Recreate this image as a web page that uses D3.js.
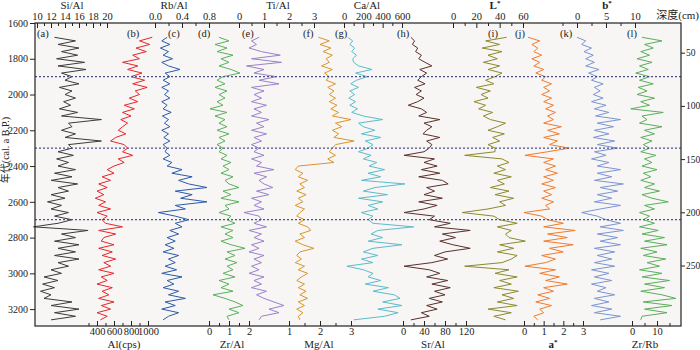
<!DOCTYPE html>
<html>
<head>
    <meta charset="utf-8">
    <title>geochem profiles</title>
    <script src="https://d3js.org/d3.v7.min.js"></script>
    <style>
        body { margin: 0; background: #fff; }
        svg text { font-family: "Liberation Serif", "Noto Sans CJK SC", serif; fill: #222; }
    </style>
</head>
<body>
    <svg id="chart" width="700" height="350"></svg>

    <script>
    // age of each sample (cal. a B.P.)
    var ages = [1680,1700,1720,1740,1760,1780,1800,1820,1840,1860,1880,1900,1920,1940,1960,1980,
        2000,2020,2040,2060,2080,2100,2120,2140,2160,2180,2200,2220,2240,2260,2280,2300,
        2320,2340,2360,2380,2400,2420,2440,2460,2480,2500,2520,2540,2560,2580,2600,2620,
        2640,2660,2680,2700,2720,2740,2760,2780,2800,2820,2840,2860,2880,2900,2920,2940,
        2960,2980,3000,3020,3040,3060,3080,3100,3120,3140,3160,3180,3200,3220,3240,3260];

    var siAl = [12.5,15.5,13.0,16.0,13.5,15.8,12.8, 16.8,13.0,17.0,13.5,15.0, 14.0,16.0,13.2,15.0,14.0,
        15.5,13.8,14.8,13.2,15.8,13.5,19.2,14.5, 15.0,13.5,15.5,14.0,19.2,14.5,15.0, 13.0,15.2,12.8,14.5,13.0,
        15.5,12.5,15.0,12.0,15.8,13.0,14.5,12.0, 14.0,11.5,13.5,12.0,14.5,12.5,15.0, 13.0,9.5,17.3,13.5,15.5,
        12.5,16.0,13.0,15.5,12.5,16.0,13.0, 14.5,12.0,13.5,11.0,13.0,10.8,12.5,10.5,12.0, 11.0,15.0,12.0,16.0,12.5,15.5,12.0];
    var alCps = [1050,900,1020,860,980,820,900, 700,880,760,930,800, 960,820,990,850,900,
        780,880,720,840,700,800,680,760,700,650,740,620,560,720,760, 700,820,650,720,600,
        520,600,460,560,420,520,400,480, 380,500,420,560,400,520,460, 500,700,420,620,480,
        450,600,420,580,460,620,480, 560,420,600,450,520,400,580,460,540, 420,600,450,560,400,520,440];
    var rbAl = [0.18,0.10,0.22,0.08,0.20,0.12,0.26,0.10,0.20,0.37,0.15,0.22, 0.12,0.22,0.10,0.20,0.14,
        0.22,0.10,0.18,0.12,0.24,0.11,0.20,0.14, 0.22,0.10,0.20,0.13,0.22,0.12,0.18, 0.15,0.22,0.12,0.25,0.18,
        0.40,0.25,0.55,0.35,0.50,0.77,0.30,0.55,0.38,0.77,0.30,0.45,0.05,0.30,0.50, 0.30,0.40,0.22,0.35,0.18,
        0.30,0.15,0.28,0.12,0.35,0.20,0.30, 0.15,0.32,0.10,0.40,0.18,0.28,0.12,0.35,0.20, 0.45,0.15,0.30,0.10,0.35,0.20,0.12];
    var zrAl = [0.5,1.0,0.3,0.9,0.4,1.2,0.6, 1.0,0.5,1.1,1.55,0.7, 0.4,0.8,0.3,0.9,0.5,
        0.8,0.4,0.7,0.05,0.9,0.3,0.8,0.5, 0.9,0.4,1.0,0.5,0.8,0.4,0.7, 0.5,0.9,0.6,1.1,0.7,
        1.0,0.6,1.2,0.8,1.0,1.5,0.7,1.1, 0.6,1.5,0.8,1.0,0.5,1.1,0.9, 1.3,0.6,1.2,0.8,1.2,
        0.6,1.1,1.8,0.9,1.3,0.8,1.4, 0.9,1.2,0.7,1.3,0.5,1.0,0.6,1.2,0.2, 0.8,1.3,1.7,1.0,1.5,0.9,1.0];
    var tiAl = [0.8,0.5,0.7,0.4,0.9,1.65,0.5,1.7,0.3,1.0,0.6,1.5,0.8,1.6,
        0.5,1.0,0.6,0.9,0.5,1.1,0.6,0.9,0.5,1.2,0.7,1.0,0.5,1.1,0.6,0.9,0.5,0.8,0.6,1.0,0.5,0.9,0.7,
        1.4,0.6,1.1,0.8,1.0,1.35,0.7,1.2,0.5,0.9,0.6,1.0,0.2,0.8,0.9,
        0.6,1.1,0.4,0.9,0.6,1.0,0.5,0.8,0.4,1.0,0.6,0.9,0.5,0.8,0.4,1.0,0.6,0.9,0.5,1.1,0.7,
        1.0,1.4,1.8,1.2,1.6,0.9,0.8];
    var mgAl = [1.95,2.3,2.0,2.35,2.1,2.4,2.2, 2.3,2.05,2.4,2.15,2.3, 2.2,2.5,2.25,2.45,2.3,
        2.5,2.3,2.55,2.35,2.6,2.4,3.0,2.5, 2.7,2.4,2.6,2.45,3.1,2.5,2.4, 2.3,2.5,2.25,2.45,1.3,
        1.2,1.45,1.3,1.6,1.35,1.5,1.25,1.55, 1.3,1.45,1.2,1.5,1.35,1.25,1.5, 1.3,1.6,1.7,1.35,1.5,
        1.2,1.45,1.8,1.35,1.25,1.4,1.2, 1.5,1.3,1.6,1.4,1.25,1.5,1.3,1.55,1.35, 1.6,1.3,1.5,1.25,1.45,1.3,1.35];
    var caAl = [40,90,60,110,80,130,90, 100,150,290,120,240, 130,70,150,60,110,
        50,120,60,140,80,200,400,150, 200,320,180,380,220,300,250, 150,280,200,340,260,
        420,250,380,180,630,320,200,450,150,400,250,350,180,300,250,
        300,720,350,280,400,250,600,300,200,350,180,300, 30,
        200,300,250,380,220,460,300,520, 580,400,600,350,560,420,100];
    var srAl = [15,22,18,28,24,35,30, 42,55,32,45,35, 28,42,22,35,25,
        40,28,10,35,45,30,70,40, 55,45,38,70,45,55,50, 40,2,60,40,65,
        35,70,30,75,86,45,60,40, 75,30,65,40,2,60,50, 90,60,128,75,100,
        70,95,128,80,60,85,55, 2,50,70,45,85,55,90,60,80, 50,75,45,65,35,50,15];
    var lStar = [46,28,40,25,42,30,38, 26,40,30,42,36, 28,35,20,32,24,
        30,18,28,22,34,26,32,45, 38,30,44,34,40,30,36, 36,10,42,48,38,
        45,35,50,38,44,32,48,36, 52,40,45,30,8,35,40, 55,38,50,45,48,
        62,40,52,38,55,50,42, 10,48,36,55,40,50,35,56,42, 52,38,55,30,50,35,45];
    var aStar = [0.2,0.8,0.4,0.7,0.5,0.9,0.4, 0.8,0.5,1.0,0.6,1.1, 0.9,1.4,1.0,1.3,0.9,
        1.4,1.0,1.5,1.1,1.6,1.2,1.5,1.0, 1.9,1.2,1.8,1.0,1.7,1.3,2.3, 1.2,0.05,1.5,1.0,1.6,
        1.1,1.7,1.0,1.5,0.9,1.6,1.0,1.4, 0.9,1.5,1.1,1.3,0.0,0.9,1.2, 2.0,1.0,2.6,1.2,2.2,
        1.0,2.5,1.3,2.0,0.9,1.6,1.1, 0.05,1.6,0.8,1.8,1.1,2.2,1.0,1.5,0.7, 1.3,0.6,1.4,0.8,1.0,0.5,0.7];
    var bStar = [0.0,1.5,0.8,2.5,1.2,2.8,1.5, 3.0,1.5,3.8,2.0,3.5, 2.5,4.5,3.0,4.0,2.8,
        4.5,2.5,5.0,3.0,5.5,3.2,7.5,3.5, 6.3,3.0,5.5,2.8,6.5,3.5,7.0, 3.0,5.0,2.5,5.5,3.5,
        7.5,3.5,6.0,3.0,8.0,4.0,7.0,3.5, 6.0,3.0,7.5,4.0,0.8,3.5,5.0, 7.5,4.0,8.0,3.5,7.0,
        4.0,7.5,3.0,6.5,3.5,6.0,3.0, 6.5,2.5,5.5,3.0,6.0,2.5,5.0,3.5,6.5, 3.0,5.5,2.5,6.0,3.0,7.5,4.0];
    var zrRb = [4.0,12.0,5.0,8.5,3.5,7.0,2.0, 8.0,3.0,6.5,1.5,7.0, 3.0,8.5,2.5,6.0,2.0,
        9.0,3.5,7.0,-0.5,12.5,4.0,6.0,3.0, 12.0,5.0,9.0,3.5,8.0,4.5,7.0, 3.5,9.5,5.0,8.0,4.0,
        10.0,4.5,7.5,3.5,9.0,5.0,11.0,4.0, 8.0,14.5,5.0,9.0,3.0,7.0,4.5, 9.0,3.0,10.5,4.0,13.0,
        5.0,14.0,3.5,10.0,4.5,13.5,6.0, 11.0,3.0,12.0,4.0,15.0,5.0,13.0,3.5,12.0, 17.5,4.5,16.0,5.0,14.0,4.0,3.5];

    // axis ticks
    var yearTicks = [1600,1800,2000,2200,2400,2600,2800,3000,3200];
    var depthTicks = [50,100,150,200,250];
    var boundaryAges = [1900,2300,2700];

    var plotL = 35, plotR = 681, plotT = 23, plotB = 326;

    var svg = d3.select('#chart');

    var yScale = d3.scaleLinear().domain([1600, 3300]).range([plotT, 327]);
    var depthScale = d3.scaleLinear().domain([0, 300]).range([-0.5, 318.7]);

    svg.append('rect')
        .attr('x', plotL).attr('y', plotT)
        .attr('width', plotR - plotL).attr('height', plotB - plotT)
        .attr('fill', '#f7f6f5');

    var panels = [
        { id: '(a)', lx: 37,  vals: siAl,  color: '#3b3b3b', side: 'top',    dom: [10, 20],   rng: [37, 107],  major: [10,12,14,16,18,20], minor: [11,13,15,17,19], fmt: d3.format('d') },
        { id: '(b)', lx: 127, vals: alCps, color: '#e8262b', side: 'bottom', dom: [400, 1000], rng: [97, 148], major: [400,600,800,1000], minor: [300,500,700,900], fmt: d3.format('d') },
        { id: '(c)', lx: 168, vals: rbAl,  color: '#2c5aa8', side: 'top',    dom: [0, 0.4],   rng: [155, 182], major: [0,0.4,0.8], minor: [0.2,0.6], fmt: d3.format('.1f') },
        { id: '(d)', lx: 198, vals: zrAl,  color: '#5bb05b', side: 'bottom', dom: [0, 2],     rng: [209, 249], major: [0,1,2], minor: [0.5,1.5], fmt: d3.format('d') },
        { id: '(e)', lx: 242, vals: tiAl,  color: '#9b80cc', side: 'top',    dom: [0, 3],     rng: [239, 314], major: [0,1,2,3], minor: [0.5,1.5,2.5], fmt: d3.format('d') },
        { id: '(f)', lx: 303, vals: mgAl,  color: '#d9952b', side: 'bottom', dom: [1, 3],     rng: [289, 351], major: [1,2,3], minor: [1.5,2.5], fmt: d3.format('d') },
        { id: '(g)', lx: 335, vals: caAl,  color: '#5bbccb', side: 'top',    dom: [0, 600],   rng: [344, 402], major: [0,200,400,600], minor: [100,300,500], fmt: d3.format('d') },
        { id: '(h)', lx: 397, vals: srAl,  color: '#5a302b', side: 'bottom', dom: [0, 120],   rng: [403, 466], major: [0,40,80,120], minor: [20,60,100], fmt: d3.format('d') },
        { id: '(i)', lx: 488, vals: lStar, color: '#8c8a2c', side: 'top',    dom: [0, 60],    rng: [453, 523], major: [0,20,40,60], minor: [10,30,50], fmt: d3.format('d') },
        { id: '(j)', lx: 515, vals: aStar, color: '#f27a2c', side: 'bottom', dom: [0, 3],     rng: [524, 583], major: [0,1,2,3], minor: [0.5,1.5,2.5], fmt: d3.format('d') },
        { id: '(k)', lx: 560, vals: bStar, color: '#7b95d2', side: 'top',    dom: [0, 10],    rng: [577, 635], major: [0,5,10], minor: [-2.5,2.5,7.5], fmt: d3.format('d') },
        { id: '(l)', lx: 627, vals: zrRb,  color: '#5bae5b', side: 'bottom', dom: [0, 10],    rng: [632, 657], major: [0,10], minor: [5,15], fmt: d3.format('d') }
    ];

    panels.forEach(function(p) {
        var x = d3.scaleLinear().domain(p.dom).range(p.rng);
        var isTop = p.side === 'top';
        var maker = isTop ? d3.axisTop : d3.axisBottom;
        var g = svg.append('g').attr('transform', 'translate(0,' + (isTop ? plotT : plotB) + ')');

        g.append('g').call(maker(x).tickValues(p.minor).tickSize(-3).tickFormat(''));
        g.append('g').call(maker(x).tickValues(p.major).tickSize(-5).tickPadding(isTop ? 3 : 2).tickFormat(p.fmt));

        var line = d3.line()
            .x(function(d) { return x(d); })
            .y(function(d, i) { return yScale(ages[i]); });

        svg.append('path')
            .datum(p.vals)
            .attr('d', line)
            .attr('fill', 'none')
            .attr('stroke', p.color)
            .attr('stroke-width', 1);

        svg.append('text')
            .attr('x', p.lx).attr('y', 37)
            .attr('font-size', 10.5)
            .text(p.id);
    });

    svg.selectAll('.domain').remove();
    svg.selectAll('.tick text').attr('font-size', 10.5).attr('fill', '#222');

    // event boundaries
    svg.selectAll('.bound')
        .data(boundaryAges)
        .enter().append('line')
        .attr('x1', plotL).attr('x2', plotR)
        .attr('y1', function(d) { return yScale(d); })
        .attr('y2', function(d) { return yScale(d); })
        .attr('stroke', '#4a4f8c')
        .attr('stroke-width', 1.2)
        .attr('stroke-dasharray', '2,2');

    // left age axis
    svg.append('g')
        .attr('transform', 'translate(' + plotL + ',0)')
        .call(d3.axisLeft(yScale).tickValues(yearTicks).tickSize(5).tickPadding(2).tickFormat(d3.format('d')))
        .call(function(g) { g.select('.domain').remove(); })
        .selectAll('text').attr('font-size', 10);

    // right depth axis
    svg.append('g')
        .attr('transform', 'translate(' + plotR + ',0)')
        .call(d3.axisRight(depthScale).tickValues(depthTicks).tickSize(4).tickPadding(1))
        .call(function(g) { g.select('.domain').remove(); })
        .selectAll('text').attr('font-size', 9.5);

    svg.selectAll('.tick line').attr('stroke', '#222');

    // frame
    svg.append('rect')
        .attr('x', plotL).attr('y', plotT)
        .attr('width', plotR - plotL).attr('height', plotB - plotT)
        .attr('fill', 'none')
        .attr('stroke', '#222')
        .attr('stroke-width', 1.2);

    // titles
    var topTitles = [['Si/Al', 72], ['Rb/Al', 174], ['Ti/Al', 278], ['Ca/Al', 367]];
    topTitles.forEach(function(t) {
        svg.append('text').attr('x', t[1]).attr('y', 9).attr('text-anchor', 'middle')
            .attr('font-size', 11).text(t[0]);
    });
    var bottomTitles = [['Al(cps)', 124], ['Zr/Al', 232], ['Mg/Al', 319], ['Sr/Al', 433], ['Zr/Rb', 645]];
    bottomTitles.forEach(function(t) {
        svg.append('text').attr('x', t[1]).attr('y', 348).attr('text-anchor', 'middle')
            .attr('font-size', 11).text(t[0]);
    });

    function starTitle(txt, x, y) {
        var t = svg.append('text').attr('x', x).attr('y', y).attr('text-anchor', 'middle')
            .attr('font-size', 11).attr('font-weight', 'bold');
        t.append('tspan').text(txt);
        t.append('tspan').attr('font-size', 7).attr('dy', -4).text('*');
    }
    starTitle('L', 495, 9);
    starTitle('b', 607, 9);
    starTitle('a', 553, 348);

    svg.append('text')
        .attr('x', 699).attr('y', 19)
        .attr('text-anchor', 'end')
        .attr('font-size', 11)
        .text('深度(cm)');

    svg.append('text')
        .attr('transform', 'translate(9,' + 150 + ') rotate(-90)')
        .attr('text-anchor', 'middle')
        .attr('font-size', 10)
        .text('年代(cal. a B.P.)');
    </script>
</body>
</html>
